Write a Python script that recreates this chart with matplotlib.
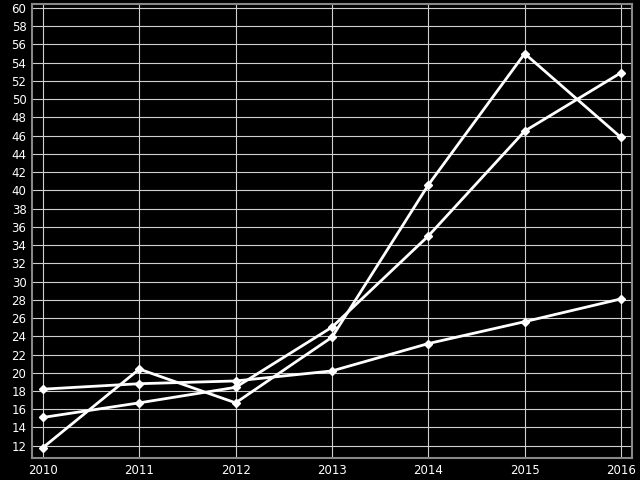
import matplotlib
matplotlib.use("Agg")
import matplotlib.pyplot as plt

years = [2010, 2011, 2012, 2013, 2014, 2015, 2016]
serie_a = [11.8, 20.4, 16.7, 23.9, 40.6, 55.0, 45.8]
serie_b = [15.1, 16.7, 18.4, 25.0, 35.0, 46.5, 52.9]
serie_c = [18.2, 18.8, 19.1, 20.2, 23.2, 25.6, 28.1]
y_ticks = list(range(12, 61, 2))

fig = plt.figure(figsize=(6.4, 4.8), dpi=100, facecolor="black")
ax = fig.add_axes([0.05, 0.0458, 0.9375, 0.9459], facecolor="black")

for serie in [serie_c, serie_b, serie_a]:
    ax.plot(years, serie, color="white", linewidth=2.0, marker="D", markersize=4,
            markerfacecolor="white", markeredgecolor="white", zorder=3)

ax.set_xlim(2009.886, 2016.114)
ax.set_ylim(10.65, 60.44)
ax.set_xticks(years)
ax.set_yticks(y_ticks)
ax.grid(True, color="#d0d0d0", linewidth=0.8)
ax.set_axisbelow(True)
ax.tick_params(colors="white", labelsize=8.5, length=0, pad=4)
for s in ax.spines.values():
    s.set_color("#888888")
    s.set_linewidth(1.5)

fig.savefig("out.png", dpi=100, facecolor="black")
